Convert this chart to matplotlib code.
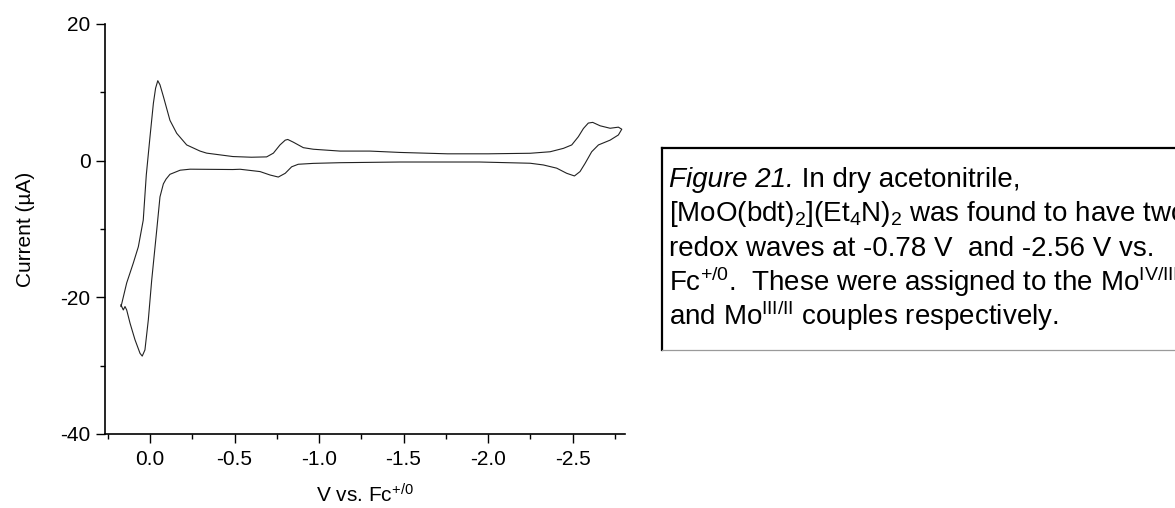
import matplotlib
matplotlib.use("Agg")
import matplotlib.pyplot as plt
from matplotlib.lines import Line2D
from matplotlib.ticker import MultipleLocator, FormatStrFormatter

plt.rcParams["font.family"] = ["Liberation Sans", "DejaVu Sans"]
plt.rcParams["mathtext.fontset"] = "custom"
plt.rcParams["mathtext.rm"] = "Liberation Sans"
plt.rcParams["mathtext.it"] = "Liberation Sans:italic"
plt.rcParams["mathtext.bf"] = "Liberation Sans:bold"
plt.rcParams["axes.unicode_minus"] = False

# cyclic voltammogram of [MoO(bdt)2](Et4N)2, potential in V vs Fc+/0, current in uA
# sweep from the switching point near +0.17 V out to -2.79 V
forward_v = [0.172, 0.167, 0.138, 0.099, 0.069, 0.040, 0.022, 0.000, -0.020, -0.033,
             -0.046, -0.059, -0.079, -0.118, -0.158, -0.217, -0.296, -0.335, -0.49, -0.60,
             -0.69, -0.73, -0.769, -0.80, -0.815, -0.848, -0.907, -0.966, -1.124, -1.30,
             -1.48, -1.76, -2.00, -2.249, -2.367, -2.446, -2.495, -2.534, -2.564, -2.593,
             -2.619, -2.663, -2.722, -2.771, -2.791]
forward_i = [-21.35, -20.9, -17.9, -15.0, -12.6, -8.7, -2.1, 3.5, 8.4, 10.6,
             11.7, 11.1, 9.4, 5.9, 4.0, 2.3, 1.4, 1.1, 0.6, 0.5,
             0.55, 1.1, 2.3, 3.0, 3.1, 2.7, 1.9, 1.67, 1.4, 1.4,
             1.2, 1.0, 1.0, 1.08, 1.3, 1.8, 2.3, 3.5, 4.7, 5.5,
             5.6, 5.1, 4.74, 4.9, 4.6]

# return sweep back to the starting point
reverse_v = [-2.771, -2.722, -2.653, -2.613, -2.574, -2.544, -2.511, -2.465, -2.406, -2.327,
             -2.249, -1.95, -1.48, -1.124, -0.966, -0.877, -0.838, -0.80, -0.759, -0.71,
             -0.651, -0.533, -0.49, -0.237, -0.178, -0.158, -0.118, -0.095, -0.079, -0.059,
             -0.040, -0.010, 0.010, 0.030, 0.046, 0.059, 0.089, 0.118, 0.138, 0.148,
             0.158, 0.172]
reverse_i = [3.76, 3.0, 2.3, 1.3, -0.4, -1.6, -2.24, -1.85, -1.1, -0.63,
             -0.38, -0.2, -0.2, -0.3, -0.4, -0.53, -0.9, -1.85, -2.4, -2.1,
             -1.6, -1.26, -1.3, -1.25, -1.4, -1.6, -2.0, -2.7, -3.4, -5.3,
             -10.1, -17.5, -23.3, -27.7, -28.6, -28.2, -26.2, -23.8, -21.85, -21.35,
             -21.85, -21.1]

caption_head = "Figure 21."
caption_lines = [
    " In dry acetonitrile,",
    r"[MoO(bdt)$_2$](Et$_4$N)$_2$ was found to have two",
    "redox waves at -0.78 V  and -2.56 V vs.",
    r"Fc$^{+/0}$.  These were assigned to the Mo$^{\mathrm{IV/III}}$",
    r"and Mo$^{\mathrm{III/II}}$ couples respectively.",
]

fig = plt.figure(figsize=(11.75, 5.08), dpi=100)
ax = fig.add_axes([0.0894, 0.1457, 0.4425, 0.8071])

ax.plot(forward_v + reverse_v, forward_i + reverse_i, color="#222222", linewidth=0.8)

ax.set_xlim(0.266, -2.81)
ax.set_ylim(-40, 20)
ax.xaxis.set_major_locator(MultipleLocator(0.5))
ax.xaxis.set_minor_locator(MultipleLocator(0.25))
ax.xaxis.set_major_formatter(FormatStrFormatter("%.1f"))
ax.yaxis.set_major_locator(MultipleLocator(20))
ax.yaxis.set_minor_locator(MultipleLocator(10))

for side in ("top", "right"):
    ax.spines[side].set_visible(False)
for side in ("left", "bottom"):
    ax.spines[side].set_linewidth(1.2)

ax.tick_params(which="major", direction="out", length=6.5, width=1.0, labelsize=15, pad=4)
ax.tick_params(which="minor", direction="out", length=3.6, width=1.0)
ax.tick_params(axis="x", which="major", pad=5)

ax.set_xlabel(r"V vs. Fc$^{+/0}$", fontsize=15)
ax.set_ylabel("Current (µA)", fontsize=15)
ax.xaxis.set_label_coords(0.5, -0.12)
ax.yaxis.set_label_coords(-0.135, 0.5)

# caption box: heavy top and left rules, light bottom rule, open towards the right
bx0, btop, bbot = 662 / 1175, 1 - 148 / 508, 1 - 350 / 508
fig.add_artist(Line2D([bx0, 1.0], [btop, btop], color="black", linewidth=1.6))
fig.add_artist(Line2D([bx0, bx0], [btop, bbot], color="black", linewidth=1.6))
fig.add_artist(Line2D([bx0, 1.0], [bbot, bbot], color="#9a9a9a", linewidth=0.9))

tx = 669 / 1175
baselines = [187, 221, 256, 291, 325]

# italic figure number, then the rest of the first line right after it
head = fig.text(tx, 1 - baselines[0] / 508, caption_head, fontsize=20,
                style="italic", va="baseline", ha="left")
renderer = fig.canvas.get_renderer()
head_end = head.get_window_extent(renderer).x1 / fig.bbox.width

for i, (text, yb) in enumerate(zip(caption_lines, baselines)):
    x0 = head_end if i == 0 else tx
    fig.text(x0, 1 - yb / 508, text, fontsize=20, va="baseline", ha="left")

fig.savefig("out.png", dpi=100)
